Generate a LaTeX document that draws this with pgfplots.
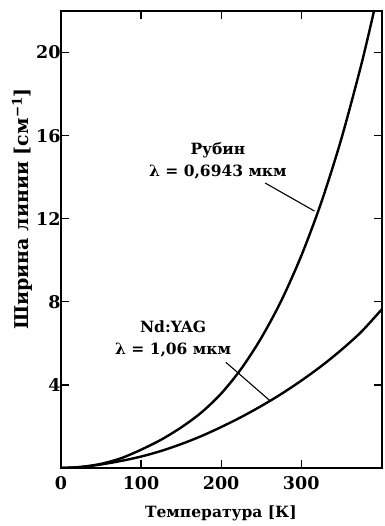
\documentclass[border=0pt]{standalone}
\usepackage{fontspec}
\setmainfont{DejaVu Serif}
\usepackage{pgfplots}
\pgfplotsset{compat=1.18}
\begin{document}
\begin{tikzpicture}
\begin{axis}[
  at={(0,0)}, anchor=south west,
  scale only axis, width=321pt, height=457pt,
  xmin=0, xmax=401, ymin=0, ymax=22,
  axis line style={line width=1.4pt},
  xtick={0,100,200,300}, ytick={4,8,12,16,20},
  tick align=inside, major tick length=8pt,
  tick style={line width=1.2pt, black},
  xtick pos=both, ytick pos=both,
  /pgf/number format/assume math mode=true,
  ticklabel style={font=\fontsize{17.5}{19}\selectfont\bfseries},
  xticklabel style={yshift=-5pt},
  yticklabel style={xshift=3pt},
  xlabel={Температура [К]},
  ylabel={Ширина линии [см\textsuperscript{−1}]},
  xlabel style={font=\fontsize{15.5}{18}\selectfont\bfseries, at={(axis description cs:0.498,0)}, anchor=center, yshift=-45pt},
  ylabel style={font=\fontsize{19}{22}\selectfont\bfseries, at={(axis description cs:-0.121,0.567)}, anchor=center},
  clip=true,
]
\addplot[black, line width=2.4pt, smooth] coordinates {
(0,0) (25,0.05) (50,0.2) (75,0.47) (100,0.88) (125,1.36) (150,1.95) (175,2.66) (200,3.58) (225,4.77) (250,6.25) (275,8.04) (300,10.2) (325,12.77) (350,15.82) (375,19.4) (391,22) (396,22.9)
};
\addplot[black, line width=2.4pt, smooth] coordinates {
(0,0) (25,0.05) (50,0.17) (75,0.34) (100,0.55) (125,0.82) (150,1.15) (175,1.53) (200,1.97) (225,2.45) (250,2.98) (275,3.56) (300,4.2) (325,4.9) (350,5.68) (375,6.55) (401,7.65)
};
\draw[line width=1.1pt] (axis cs:255,13.72) -- (axis cs:316.6,12.37);
\draw[line width=1.1pt] (axis cs:205.9,5.09) -- (axis cs:261.3,3.23);
\node[font=\fontsize{15.5}{22}\selectfont\bfseries, align=center] at (axis cs:196,14.78) {Рубин\\λ = 0,6943 мкм};
\node[font=\fontsize{15.5}{22}\selectfont\bfseries, align=center] at (axis cs:140,6.21) {Nd:YAG\\λ = 1,06 мкм};
\end{axis}
\pgfresetboundingbox
\useasboundingbox (-61pt,-58pt) rectangle (323pt,468pt);
\end{tikzpicture}
\end{document}
